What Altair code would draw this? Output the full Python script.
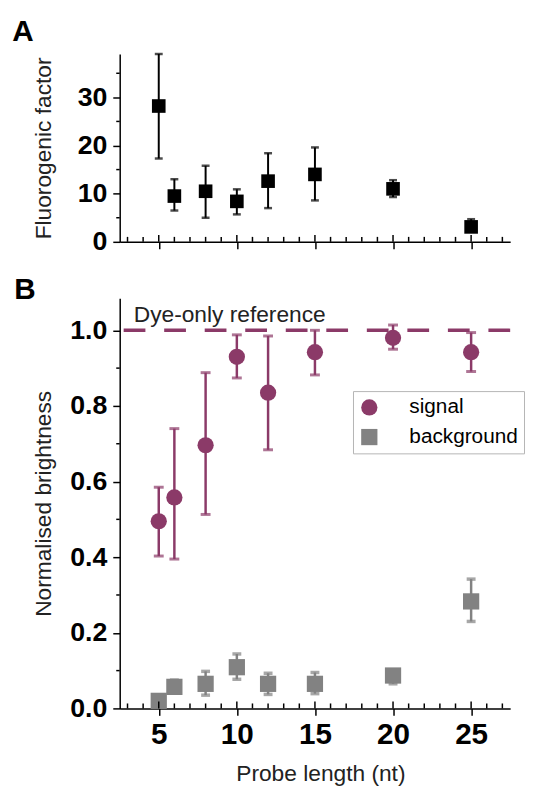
import altair as alt
import pandas as pd

# ---------------- data ----------------
lengths = [5, 6, 8, 10, 12, 15, 20, 25]

ff_mean = [28.2, 9.5, 10.5, 8.4, 12.6, 14.0, 11.0, 3.1]
ff_low = [17.3, 6.5, 5.0, 5.7, 7.0, 8.6, 9.3, 2.2]
ff_high = [39.0, 13.0, 15.8, 10.9, 18.4, 19.6, 12.8, 4.7]

sig_mean = [0.495, 0.558, 0.696, 0.930, 0.835, 0.942, 0.980, 0.942]
sig_low = [0.403, 0.395, 0.513, 0.874, 0.684, 0.882, 0.950, 0.891]
sig_high = [0.585, 0.740, 0.888, 0.988, 0.985, 1.000, 1.014, 0.994]

bg_mean = [0.020, 0.057, 0.065, 0.109, 0.065, 0.065, 0.087, 0.283]
bg_low = [0.010, 0.045, 0.035, 0.077, 0.037, 0.039, 0.065, 0.230]
bg_high = [0.030, 0.075, 0.098, 0.144, 0.093, 0.095, 0.095, 0.342]

series_names = ["signal", "background"]
ref_level = [1.0]
ref_label = ["Dye-only reference"]
ref_label_x = [3.4]

x_major = [5, 10, 15, 20, 25]
x_minor = [3, 4, 6, 7, 8, 9, 11, 12, 13, 14, 16, 17, 18, 19, 21, 22, 23, 24, 26, 27]
yA_major = [0, 10, 20, 30]
yA_minor = [5, 15, 25, 35]
yB_major = [0.0, 0.2, 0.4, 0.6, 0.8, 1.0]
yB_minor = [0.1, 0.3, 0.5, 0.7, 0.9]

PURPLE = "#8B3A68"
GRAY = "#828282"
FONT = "Liberation Sans"

W, HA, HB = 395, 190, 415
GAP = 57

xscale = alt.Scale(domain=[2.5, 27.5], nice=False, zero=False)
yscaleA = alt.Scale(domain=[0, 39], nice=False)
yscaleB = alt.Scale(domain=[0, 1.085], nice=False)

common_axis = dict(domainColor="black", tickColor="black", domainWidth=1.5,
                   tickWidth=1.5, labelColor="black", grid=False,
                   labelFont=FONT, titleFont=FONT, labelFontWeight="bold",
                   titleFontWeight="normal", titleColor="#222222")

xaxisA = alt.Axis(values=x_major, labels=False, tickSize=7, title=None, **common_axis)
xaxisB = alt.Axis(values=x_major, tickSize=7, labelFontSize=30, labelPadding=5,
                  title="Probe length (nt)", titleFontSize=23, titleX=203, titleY=55,
                  **common_axis)
yaxisA = alt.Axis(values=yA_major, tickSize=7, labelFontSize=27, labelPadding=6,
                  title="Fluorogenic factor", titleFontSize=23, titleX=-65, titleY=HA / 2,
                  **common_axis)
yaxisB = alt.Axis(values=yB_major, format=".1f", tickSize=7, labelFontSize=27, labelPadding=6,
                  title="Normalised brightness", titleFontSize=23, titleX=-65, titleY=HB / 2,
                  **common_axis)


def X(field, axis):
    return alt.X(field, type="quantitative", scale=xscale, axis=axis)


def panel_ticks(h, axis_x, yscale, axis_y, yminor):
    dmaj = pd.DataFrame({"t": x_major})
    dmin = pd.DataFrame({"t": x_minor})
    dymin = pd.DataFrame({"t": yminor})
    maj = alt.Chart(dmaj).mark_rule(color="black", strokeWidth=1.5).encode(
        x=X("t", axis_x), y=alt.value(h), y2=alt.value(h - 7))
    mnr = alt.Chart(dmin).mark_rule(color="black", strokeWidth=1.5).encode(
        x=X("t", axis_x), y=alt.value(h), y2=alt.value(h - 5))
    ymn = alt.Chart(dymin).mark_rule(color="black", strokeWidth=1.5).encode(
        y=alt.Y("t:Q", scale=yscale, axis=axis_y), x=alt.value(-3.5), x2=alt.value(0))
    return [maj, mnr, ymn]


def panel_label(letter, xpix, ypix):
    return alt.Chart(pd.DataFrame({"label": [letter]})).mark_text(
        font=FONT, fontSize=30, fontWeight="bold", align="left", baseline="alphabetic",
        color="black").encode(text="label:N", x=alt.value(xpix), y=alt.value(ypix))


# ---------------- panel A ----------------
dfA = pd.DataFrame({"len": lengths, "mean": ff_mean, "low": ff_low, "high": ff_high})
YA = lambda f: alt.Y(f, type="quantitative", scale=yscaleA, axis=yaxisA)

a_err = alt.Chart(dfA).mark_rule(color="black", strokeWidth=2).encode(
    x=X("len", xaxisA), y=YA("low"), y2="high:Q")
a_caps = alt.Chart(dfA).transform_fold(["low", "high"], as_=["end", "v"]).mark_tick(
    orient="horizontal", color="black", size=8, thickness=2.5).encode(
    x=X("len", xaxisA), y=YA("v"))
a_pts = alt.Chart(dfA).mark_point(shape="square", filled=True, size=190, color="black",
                                  opacity=1).encode(x=X("len", xaxisA), y=YA("mean"))

panelA = alt.layer(
    a_err, a_caps, a_pts,
    *panel_ticks(HA, xaxisA, yscaleA, yaxisA, yA_minor),
    panel_label("A", -108.7, -13),
).properties(width=W, height=HA)

# ---------------- panel B ----------------
dfS = pd.DataFrame({"len": lengths, "mean": sig_mean, "low": sig_low, "high": sig_high})
dfG = pd.DataFrame({"len": lengths, "mean": bg_mean, "low": bg_low, "high": bg_high})
dfPts = pd.DataFrame({
    "len": lengths + lengths,
    "val": sig_mean + bg_mean,
    "series": [series_names[0]] * len(lengths) + [series_names[1]] * len(lengths),
})
YB = lambda f: alt.Y(f, type="quantitative", scale=yscaleB, axis=yaxisB)

ref_rule = alt.Chart(pd.DataFrame({"r": ref_level})).mark_rule(
    color=PURPLE, strokeWidth=3.5, strokeDash=[22, 19]).encode(y=YB("r"))
ref_text = alt.Chart(pd.DataFrame({"x": ref_label_x, "y": ref_level, "txt": ref_label})).mark_text(
    font=FONT, fontSize=23, align="left", baseline="alphabetic", dy=-8, color="#222222").encode(
    x=X("x", xaxisB), y=YB("y"), text="txt:N")


def err_layers(df, color, width, capsize, capthick):
    r = alt.Chart(df).mark_rule(color=color, strokeWidth=width).encode(
        x=X("len", xaxisB), y=YB("low"), y2="high:Q")
    c = alt.Chart(df).transform_fold(["low", "high"], as_=["end", "v"]).mark_tick(
        orient="horizontal", color=color, size=capsize, thickness=capthick).encode(
        x=X("len", xaxisB), y=YB("v"))
    return [r, c]


# legend is positioned relative to the top-level group (panel A origin)
legend_kw = dict(title=None, orient="none", legendX=236, legendY=94 + HA + GAP,
                 direction="vertical",
                 labelFontSize=21, labelFont=FONT, labelColor="black", symbolSize=270,
                 labelOffset=30, rowPadding=8, padding=6, strokeColor="#b5b5b5",
                 fillColor="white", symbolStrokeWidth=0)

b_pts = alt.Chart(dfPts).mark_point(filled=True, size=270, opacity=1).encode(
    x=X("len", xaxisB), y=YB("val"),
    color=alt.Color("series:N", scale=alt.Scale(domain=series_names, range=[PURPLE, GRAY]),
                    legend=alt.Legend(**legend_kw)),
    shape=alt.Shape("series:N", scale=alt.Scale(domain=series_names, range=["circle", "square"]),
                    legend=alt.Legend(**legend_kw)),
)

panelB = alt.layer(
    ref_rule, ref_text,
    *err_layers(dfG, GRAY, 2.5, 9, 3.5),
    *err_layers(dfS, PURPLE, 2.5, 10, 3),
    b_pts,
    *panel_ticks(HB, xaxisB, yscaleB, yaxisB, yB_minor),
    panel_label("B", -106.7, 1),
).properties(width=W, height=HB)

chart = alt.vconcat(panelA, panelB, spacing=GAP, bounds="flush").properties(
    padding={"left": 4, "top": 5, "right": 0, "bottom": 0}
).configure(font=FONT).configure_view(stroke=None)

chart.save("out.html", embed_options={"renderer": "svg", "actions": False})
